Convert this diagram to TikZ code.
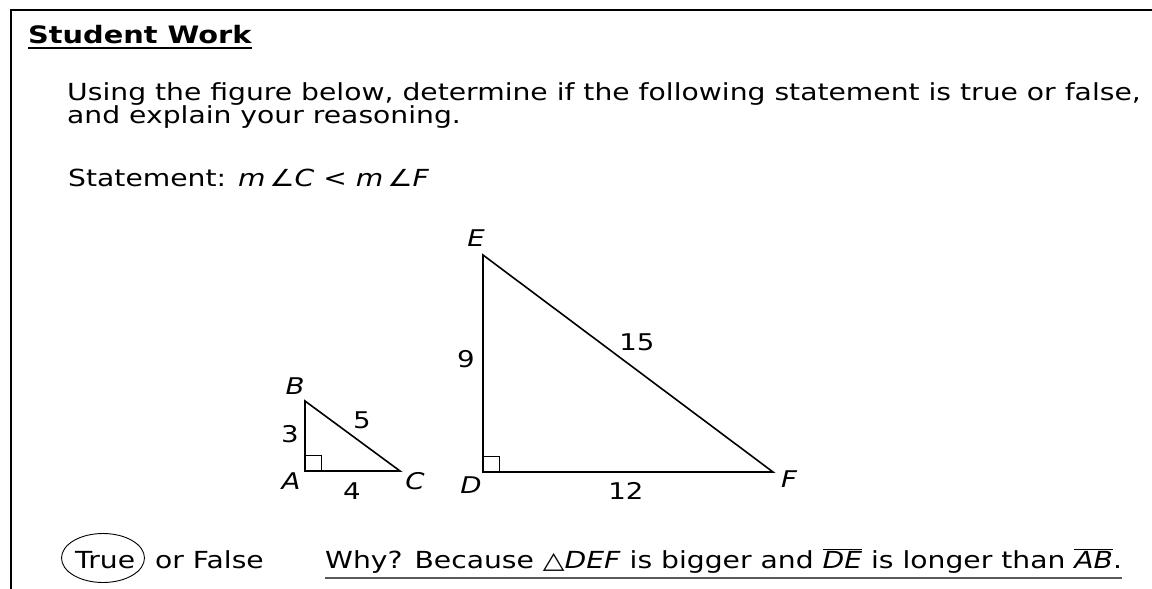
\documentclass[tikz,border=0pt]{standalone}
\usepackage{fontspec}
\setmainfont{DejaVu Sans}[FakeStretch=1.2]
\usetikzlibrary{shapes.geometric}

\begin{document}
\begin{tikzpicture}[x=1pt,y=-1pt,
  txt/.style={anchor=base west, inner sep=0pt, font=\fontsize{23.5}{24}\selectfont},
  lbl/.style={inner sep=0pt, font=\fontsize{23}{24}\selectfont\itshape},
  num/.style={inner sep=0pt, font=\fontsize{23}{24}\selectfont},
  tri/.style={line width=1.6pt, line join=miter},
  sq/.style={line width=0.9pt}]
\useasboundingbox (0,0) rectangle (1152,589);
%frame
\draw[line width=2pt] (1152,10) -- (11,10) -- (11,589);

%heading and question
\node[txt, font=\fontsize{24}{24}\selectfont\bfseries] (title) at (28,43) {Student Work};
\draw[line width=1.4pt] ([yshift=-5pt]title.base west) -- ([yshift=-5pt]title.base east);
\node[txt] (line1) at (67,100) {Using the figure below, determine if the following statement is true or false,};
\node[txt] (line2) at (67,123) {and explain your reasoning.};
\node[txt] (stmt) at (68,186) {Statement: \textit{m}\,∠\textit{C} < \textit{m}\,∠\textit{F}};

%small triangle
\coordinate (A) at (305,471);
\coordinate (B) at (305,401);
\coordinate (C) at (400,471);
\draw[tri] (A) -- (B) -- (C) -- cycle;
\draw[sq] (A) ++(16,0) -- ++(0,-16) -- ++(-16,0);
\node[lbl] (labB) at (295,386) {B};
\node[lbl] (labA) at (291,481) {A};
\node[lbl] (labC) at (415,481) {C};
\node[num] (AB) at (290,434) {3};
\node[num] (BC) at (362,420) {5};
\node[num] (AC) at (352,491) {4};

%big triangle
\coordinate (D) at (483,472);
\coordinate (E) at (483,255);
\coordinate (F) at (773,472);
\draw[tri] (D) -- (E) -- (F) -- cycle;
\draw[sq] (D) ++(16,0) -- ++(0,-16) -- ++(-16,0);
\node[lbl] (labE) at (476,238) {E};
\node[lbl] (labD) at (471,485) {D};
\node[lbl] (labF) at (789,479) {F};
\node[num] (DE) at (466,359) {9};
\node[num] (EF) at (637,342) {15};
\node[num] (DF) at (626,491) {12};

%answer
\node[txt] (true) at (75,568) {True};
\node[draw, ellipse, line width=0.9pt, minimum width=83pt, minimum height=49pt] (ring) at (103,558) {};
\node[txt] (orfalse) at (155,568) {or False};
\node[txt] (why) at (325,568) {Why? Because △\textit{DEF} is bigger and $\overline{\mbox{\itshape DE}}$ is longer than $\overline{\mbox{\itshape AB}}$.};
\draw[line width=1.2pt, black!65] ([yshift=-10pt]why.base west) -- ([yshift=-10pt]why.base east);
\end{tikzpicture}
\end{document}
